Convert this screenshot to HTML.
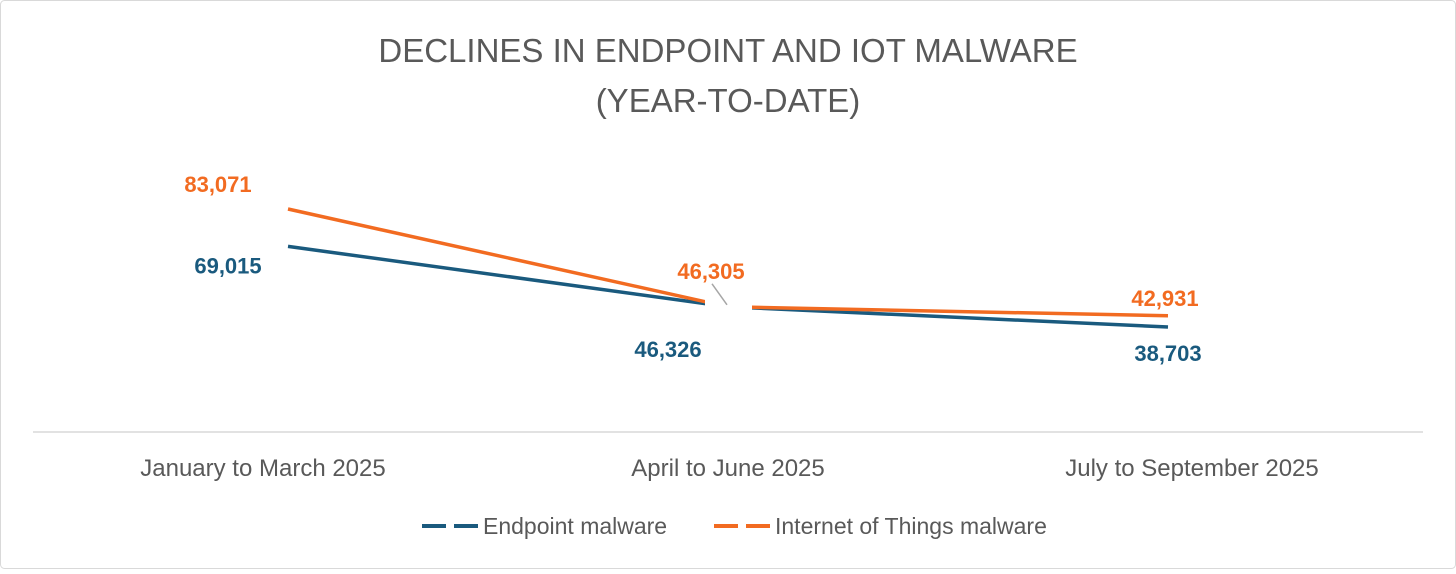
<!DOCTYPE html>
<html><head><meta charset="utf-8">
<style>
html,body{margin:0;padding:0;background:#fff;}
body{width:1456px;height:569px;overflow:hidden;font-family:"Liberation Sans",sans-serif;}
</style></head>
<body>
<svg id="chart" width="1456" height="569" xmlns="http://www.w3.org/2000/svg">
<rect x="0.5" y="0.5" width="1455" height="568" rx="4" fill="#fff" stroke="#d9d9d9"/>
<text x="728" y="62" text-anchor="middle" font-size="33" fill="#595959">DECLINES IN ENDPOINT AND IOT MALWARE</text>
<text x="728" y="112" text-anchor="middle" font-size="33" fill="#595959">(YEAR-TO-DATE)</text>
<line x1="33" y1="432" x2="1423" y2="432" stroke="#d9d9d9" stroke-width="1.5"/>
<g id="plot"></g>
<g>
<line x1="422" y1="526" x2="478" y2="526" stroke="#1a5a7e" stroke-width="4" stroke-dasharray="24,8"/>
<text x="483" y="534" font-size="23" fill="#595959">Endpoint malware</text>
<line x1="714" y1="526" x2="770" y2="526" stroke="#f26b21" stroke-width="4" stroke-dasharray="24,8"/>
<text x="775" y="534" font-size="23" fill="#595959">Internet of Things malware</text>
</g>
</svg>
<script>
const categories = ["January to March 2025","April to June 2025","July to September 2025"];
const endpointValues = [69015, 46326, 38703];
const iotValues = [83071, 46305, 42931];
const endpointLabels = ["69,015","46,326","38,703"];
const iotLabels = ["83,071","46,305","42,931"];

const NS = "http://www.w3.org/2000/svg";
const plot = document.getElementById('plot');
function x(i){ return 288 + i*440; }
function y(v){ return 430 - v*(221/83071); }
function mk(tag, attrs, parent){
  const e = document.createElementNS(NS, tag);
  for (const k in attrs) e.setAttribute(k, attrs[k]);
  (parent||plot).appendChild(e);
  return e;
}
categories.forEach((c,i)=>{
  const t = mk('text', {x: x(i) + (i===0?-25:(i===2?24:0)), y: 476, 'text-anchor':'middle', 'font-size':24, fill:'#595959'});
  
  
  t.textContent = c;
});
function series(vals, color, name){
  const pts = vals.map((v,i)=>x(i)+','+y(v)).join(' ');
  const p = mk('polyline', {points: pts, fill:'none', stroke: color, 'stroke-width': 3.5, 'stroke-linejoin':'round'});
  
  
}
series(endpointValues, '#1a5a7e', 'endpoint-line');
series(iotValues, '#f26b21', 'iot-line');
const gap = mk('rect', {x: x(1)-23, y: Math.min(y(endpointValues[1]), y(iotValues[1]))-12, width: 47, height: 24, fill:'#fff'});


const leader = mk('line', {x1: x(1)-16, y1: y(iotValues[1])-23, x2: x(1)-1, y2: y(iotValues[1])-2, stroke:'#a6a6a6', 'stroke-width':1.5});



const epOff = [[-60, 27], [-60, 50], [0, 34]];
const iotOff = [[-70, -17], [-17, -28], [-3, -10]];
endpointValues.forEach((v,i)=>{
  const t = mk('text', {x: x(i)+epOff[i][0], y: y(v)+epOff[i][1], 'text-anchor':'middle', 'font-size':22, 'font-weight':'bold', fill:'#1a5a7e'});
  
  
  t.textContent = endpointLabels[i];
});
iotValues.forEach((v,i)=>{
  const t = mk('text', {x: x(i)+iotOff[i][0], y: y(v)+iotOff[i][1], 'text-anchor':'middle', 'font-size':22, 'font-weight':'bold', fill:'#f26b21'});
  
  
  t.textContent = iotLabels[i];
});
</script>
</body></html>
